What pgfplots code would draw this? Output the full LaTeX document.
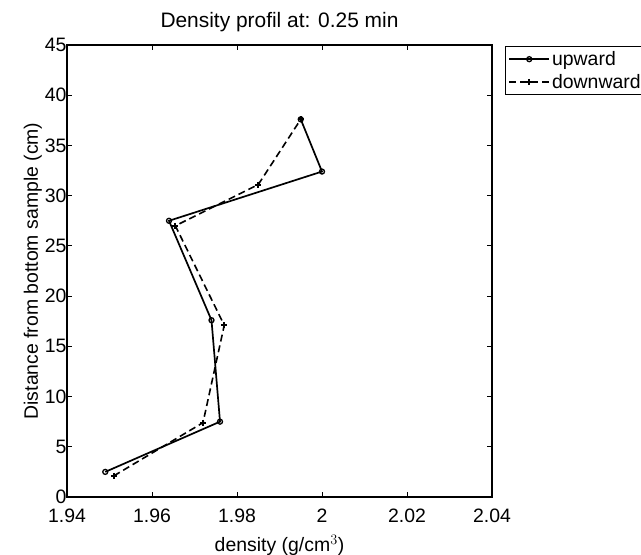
\documentclass[border=0pt]{standalone}
\usepackage{fontspec}
\setmainfont{Liberation Sans}
\usepackage{pgfplots}
\pgfplotsset{compat=1.18}
\begin{document}
\begin{tikzpicture}
\useasboundingbox (0,0) rectangle (641bp,555bp);
\begin{axis}[
  at={(67bp,58bp)}, anchor=south west,
  scale only axis, width=425bp, height=452bp,
  xmin=1.94, xmax=2.04, ymin=0, ymax=45,
  xtick={1.94,1.96,1.98,2,2.02,2.04},
  xticklabels={1.94,1.96,1.98,2,2.02,2.04},
  ytick={0,5,...,45},
  tick align=inside, major tick length=5bp,
  tick style={black, line width=0.8bp},
  axis line style={line width=1.3bp},
  /pgf/number format/assume math mode=true,
  ticklabel style={font=\fontsize{19.5}{21}\selectfont},
  xticklabel style={yshift=-8bp},
  yticklabel style={xshift=3bp},
  title={Density profil at: 0.25 min},
  title style={font=\fontsize{21}{24}\selectfont, at={(0.5,1)}, yshift=4bp},
  xlabel={density (g/cm$^{3}$)},
  ylabel={Distance from bottom sample (cm)},
  label style={font=\fontsize{19.5}{22}\selectfont},
  xlabel style={yshift=-6bp},
  ylabel style={yshift=-4bp},
]
\end{axis}
\begin{axis}[
  at={(67bp,58bp)}, anchor=south west,
  scale only axis, width=425bp, height=452bp,
  xmin=1.94, xmax=2.04, ymin=0, ymax=45,
  axis lines=none, ticks=none,
  legend style={at={(438bp,451bp)}, anchor=north west, legend cell align=left,
    font=\fontsize{19.5}{21}\selectfont, draw=black, line width=0.8bp,
    inner sep=3bp, row sep=3bp, nodes={inner sep=2bp}},
  legend image code/.code={
    \draw[mark repeat=2,mark phase=2,#1] plot coordinates {(0bp,0bp) (20bp,0bp) (40bp,0bp)};
  },
]
\addplot[black, line width=1.7bp, mark=o, mark size=2.5bp, mark options={solid, line width=1.3bp}]
  coordinates {(1.949,2.5) (1.976,7.5) (1.974,17.6) (1.964,27.5) (2.0,32.4) (1.995,37.6)};
\addlegendentry{upward}
\addplot[black, line width=1.6bp, dash pattern=on 7bp off 4bp, mark=+, mark size=3bp, mark options={solid, line width=1.8bp}]
  coordinates {(1.951,2.1) (1.972,7.4) (1.977,17.1) (1.9655,27.0) (1.985,31.1) (1.995,37.6)};
\addlegendentry{downward}
\end{axis}
\end{tikzpicture}
\end{document}
